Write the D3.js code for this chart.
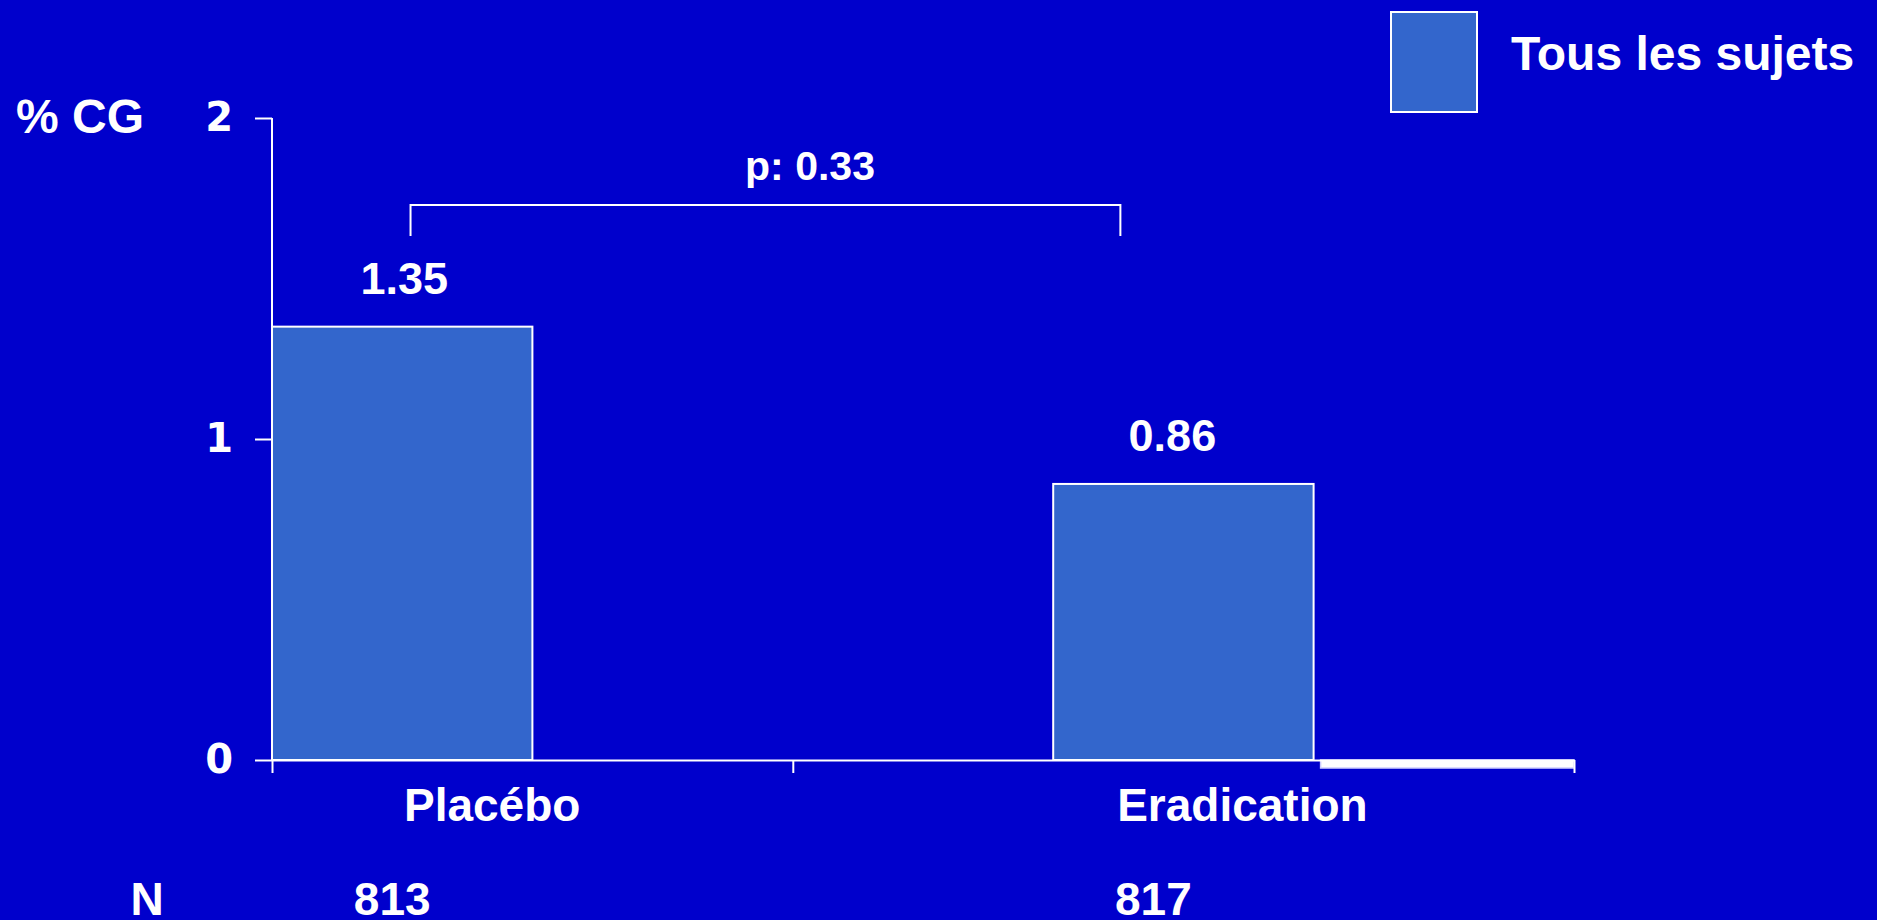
<!DOCTYPE html>
<html>
<head>
<meta charset="utf-8">
<script src="https://cdn.jsdelivr.net/npm/d3@7"></script>
<style>
  html, body { margin: 0; padding: 0; background: #0000CC; }
  svg { display: block; }
  text { font-family: "Liberation Sans", Arial, sans-serif; font-weight: bold; fill: #ffffff; }
</style>
</head>
<body>
<script>
// ---- data ----
const categories = ["Placébo", "Eradication"];
const seriesNames = ["Tous les sujets", "autre"];
const valuesTous = [1.35, 0.86];
const valuesAutre = [0, -0.025];
const valueLabels = ["1.35", "0.86"];
const nValues = ["813", "817"];
const yTicks = [0, 1, 2];
const pValueLabel = "p: 0.33";
const yAxisTitle = "% CG";
const nTitle = "N";

// ---- layout ----
const W = 1877, H = 920;
const slots = ["Placébo|Tous", "Placébo|autre", "gap", "Eradication|Tous", "Eradication|autre"];
const catSlot = { "Placébo": 0, "Eradication": 3 };
const labelOffset = [90, 59];     // category label center offset from bar center
const nOffset = [-10, -30];
const valueOffset = [2, -11];

const svg = d3.select("body").append("svg").attr("width", W).attr("height", H);

const xSlot = d3.scaleLinear().domain([0, slots.length]).range([272, 1574]);
const bw = xSlot(1) - xSlot(0);
const y = d3.scaleLinear().domain([0, 2]).range([760, 118]);

// bars: series 1
svg.selectAll("rect.tous").data(categories).join("rect")
  .attr("class", "tous")
  .attr("x", c => xSlot(catSlot[c]))
  .attr("width", bw)
  .attr("y", (c, i) => y(valuesTous[i]))
  .attr("height", (c, i) => y(0) - y(valuesTous[i]))
  .attr("fill", "#3366CC")
  .attr("stroke", "#ffffff")
  .attr("stroke-width", 2);

// bars: series 2 (white)
svg.selectAll("rect.autre").data(categories).join("rect")
  .attr("class", "autre")
  .attr("x", c => xSlot(catSlot[c] + 1) + 7)
  .attr("width", bw - 7)
  .attr("y", (c, i) => Math.min(y(0), y(valuesAutre[i])))
  .attr("height", (c, i) => Math.abs(y(0) - y(valuesAutre[i])))
  .attr("fill", "#ffffff")
  .attr("stroke", "#ccccff")
  .attr("stroke-width", (c, i) => valuesAutre[i] === 0 ? 0 : 1.5);

// y axis
const yAxis = svg.append("g").attr("transform", `translate(${xSlot(0)},0)`)
  .call(d3.axisLeft(y).tickValues(yTicks).tickFormat(d3.format("d")).tickSize(17).tickPadding(22));
yAxis.select(".domain").attr("stroke", "#ffffff").attr("stroke-width", 2).attr("d", `M0,${y(2)}V${y(0)}`);
yAxis.selectAll(".tick line").attr("stroke", "#ffffff").attr("stroke-width", 2);
yAxis.selectAll(".tick text")
  .style("font-family", "'DejaVu Sans', sans-serif").style("font-weight", "bold")
  .attr("font-size", 40).attr("fill", "#ffffff");

// x axis
const xAxis = svg.append("g").attr("transform", `translate(0,${y(0)})`)
  .call(d3.axisBottom(xSlot).tickValues([0, 2, slots.length]).tickFormat("").tickSize(13).tickSizeOuter(0));
xAxis.select(".domain").attr("stroke", "#ffffff").attr("stroke-width", 2);
xAxis.selectAll(".tick line").attr("stroke", "#ffffff").attr("stroke-width", 2);

// category labels
svg.selectAll("text.cat").data(categories).join("text")
  .attr("class", "cat")
  .attr("x", (c, i) => xSlot(catSlot[c]) + bw / 2 + labelOffset[i])
  .attr("y", 821)
  .attr("text-anchor", "middle")
  .attr("font-size", 46)
  .text(c => c);

// value labels
svg.selectAll("text.val").data(categories).join("text")
  .attr("class", "val")
  .attr("x", (c, i) => xSlot(catSlot[c]) + bw / 2 + valueOffset[i])
  .attr("y", (c, i) => y(valuesTous[i]) - 33)
  .attr("text-anchor", "middle")
  .attr("font-size", 45)
  .text((c, i) => valueLabels[i]);

// N row
svg.append("text").attr("x", 147).attr("y", 915).attr("text-anchor", "middle").attr("font-size", 46).text(nTitle);
svg.selectAll("text.n").data(categories).join("text")
  .attr("class", "n")
  .attr("x", (c, i) => xSlot(catSlot[c]) + bw / 2 + nOffset[i])
  .attr("y", 915)
  .attr("text-anchor", "middle")
  .attr("font-size", 46)
  .text((c, i) => nValues[i]);

// y axis title
svg.append("text").attr("x", 16).attr("y", 133).attr("font-size", 48).text(yAxisTitle);

// significance bracket
const bx1 = xSlot(0.532), bx2 = xSlot(3.258), by = 205, bdrop = 236;
svg.append("path")
  .attr("d", `M${bx1},${bdrop}V${by}H${bx2}V${bdrop}`)
  .attr("fill", "none").attr("stroke", "#ffffff").attr("stroke-width", 2);
svg.append("text")
  .attr("x", 810).attr("y", 180)
  .attr("text-anchor", "middle")
  .attr("font-size", 41)
  .text(pValueLabel);

// legend
svg.append("rect").attr("x", 1391).attr("y", 12).attr("width", 86).attr("height", 100)
  .attr("fill", "#3366CC").attr("stroke", "#ffffff").attr("stroke-width", 2);
svg.append("text").attr("x", 1511).attr("y", 70).attr("font-size", 48).text(seriesNames[0]);
</script>
</body>
</html>
